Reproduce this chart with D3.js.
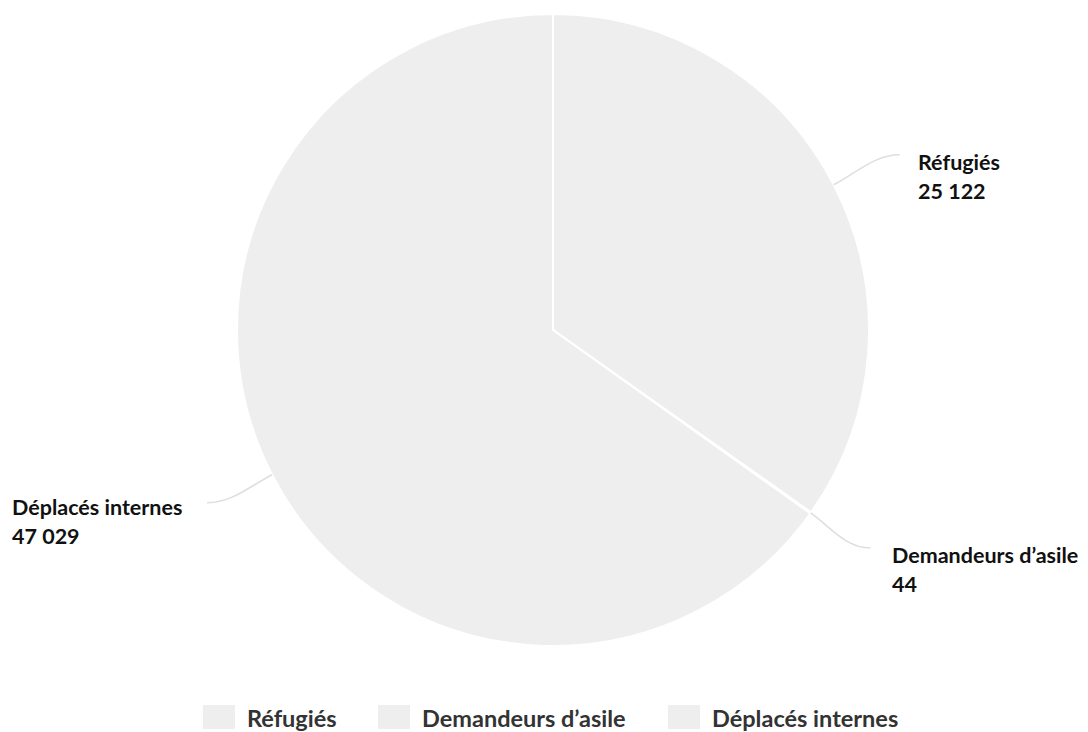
<!DOCTYPE html>
<html>
<head>
<meta charset="utf-8">
<script src="https://cdn.jsdelivr.net/npm/d3@7"></script>
<style>
  html, body { margin: 0; padding: 0; background: #fff; }
  svg { display: block; font-family: Lato, "Noto Sans", sans-serif; }
</style>
</head>
<body>
<svg id="chart" width="1088" height="732"></svg>
<script>
const categories = ["Réfugiés", "Demandeurs d’asile", "Déplacés internes"];
const values = [25122, 44, 47029];
const valueLabels = ["25 122", "44", "47 029"];
const colors = ["#eeeeee", "#eeeeee", "#eeeeee"];

const svg = d3.select("#chart");
const cx = 553, cy = 330, R = 316;

const data = categories.map((c, i) => ({ name: c, value: values[i], label: valueLabels[i], color: colors[i] }));

const pie = d3.pie().value(d => d.value).sort(null);
const arcs = pie(data);
const arc = d3.arc().innerRadius(0).outerRadius(R);

const g = svg.append("g").attr("transform", `translate(${cx},${cy})`);

g.selectAll("path.slice").data(arcs).enter().append("path")
  .attr("class", "slice")
  .attr("d", arc)
  .attr("fill", d => d.data.color)
  .attr("stroke", "#ffffff")
  .attr("stroke-width", 2)
  .attr("stroke-linejoin", "round");

const labelLayout = [
  { endDx: 66, endDy: -30, textX: 918, side: 1, baseY: 170 },
  { endDx: 60, endDy: 35, textX: 892, side: 1, baseY: 563 },
  { endDx: -65, endDy: 28, textX: 12, side: -1, baseY: 515 }
];

arcs.forEach((a, i) => {
  const mid = (a.startAngle + a.endAngle) / 2;
  const ux = Math.sin(mid), uy = -Math.cos(mid);
  const sx = ux * R, sy = uy * R;
  const L = labelLayout[i];
  const ex = sx + L.endDx, ey = sy + L.endDy;
  const c1x = sx + ux * 25, c1y = sy + uy * 25;
  const c2x = ex - L.side * 25, c2y = ey;
  g.append("path")
    .attr("d", `M${sx},${sy} C${c1x},${c1y} ${c2x},${c2y} ${ex},${ey}`)
    .attr("fill", "none")
    .attr("stroke", "#dedede")
    .attr("stroke-width", 1.5);

  const t = svg.append("text")
    .attr("x", L.textX)
    .attr("y", L.baseY)
    .attr("font-size", 21.5)
    .attr("font-weight", "bold")
    .attr("fill", "#111111");
  t.append("tspan").attr("x", L.textX).text(a.data.name);
  t.append("tspan").attr("x", L.textX).attr("dy", 28.5).text(a.data.label);
});

// Legend
const legendX = [203, 378, 668];
const legend = svg.append("g");
data.forEach((d, i) => {
  legend.append("rect")
    .attr("x", legendX[i]).attr("y", 705)
    .attr("width", 32).attr("height", 24)
    .attr("fill", d.color);
  legend.append("text")
    .attr("x", legendX[i] + 44).attr("y", 727)
    .attr("font-size", 23.5)
    .attr("font-weight", "bold")
    .attr("fill", "#333333")
    .text(d.name);
});
</script>
</body>
</html>
